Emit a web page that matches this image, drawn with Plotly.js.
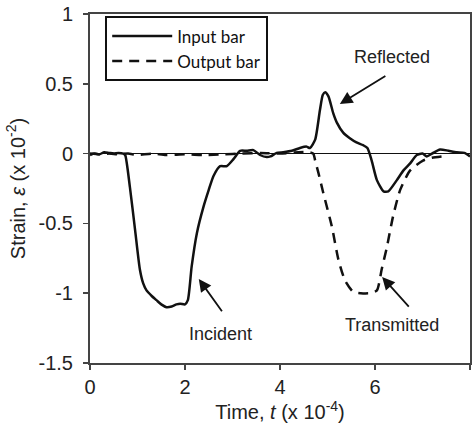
<!DOCTYPE html>
<html>
<head>
<meta charset="utf-8">
<script src="https://cdn.plot.ly/plotly-3.0.1.min.js"></script>
<style>html,body{margin:0;padding:0;background:#fff}#chart{width:473px;height:428px}</style>
</head>
<body>
<div id="chart"></div>
<script>
// Input bar (solid)
const inputTime = [0, 0.1, 0.2, 0.3, 0.4, 0.5, 0.6, 0.7, 0.74, 0.84, 0.95, 1.05, 1.12, 1.19, 1.3, 1.4, 1.5, 1.61, 1.72, 1.82, 1.9, 2.0, 2.06, 2.14, 2.25, 2.39, 2.5, 2.6, 2.74, 2.88, 3.02, 3.16, 3.3, 3.44, 3.58, 3.72, 3.8, 3.93, 4.07, 4.25, 4.42, 4.56, 4.63, 4.74, 4.84, 4.9, 4.95, 5.02, 5.12, 5.2, 5.33, 5.47, 5.61, 5.75, 5.84, 5.93, 6.04, 6.18, 6.28, 6.46, 6.6, 6.74, 6.88, 7.0, 7.09, 7.2, 7.37, 7.55, 7.72, 7.88, 8.0];
const inputStrain = [-0.01, 0.0, -0.005, 0.01, 0.005, 0.0, 0.005, 0.0, -0.01, -0.24, -0.55, -0.83, -0.93, -0.98, -1.02, -1.05, -1.08, -1.1, -1.095, -1.08, -1.075, -1.08, -1.05, -0.81, -0.57, -0.38, -0.26, -0.16, -0.09, -0.09, -0.04, 0.02, 0.02, 0.025, -0.01, -0.025, -0.02, 0.005, 0.01, 0.02, 0.04, 0.05, 0.04, 0.1, 0.31, 0.42, 0.44, 0.41, 0.29, 0.22, 0.15, 0.11, 0.08, 0.06, 0.04, -0.05, -0.19, -0.27, -0.27, -0.19, -0.12, -0.07, -0.01, 0.0, -0.02, 0.0, 0.03, 0.02, 0.01, 0.005, -0.02];

// Output bar (dashed)
const outputTime = [0, 0.2, 0.4, 0.6, 0.8, 1.0, 1.3, 1.6, 2.0, 2.4, 2.8, 3.2, 3.6, 4.0, 4.4, 4.6, 4.7, 4.74, 4.81, 4.91, 5.09, 5.23, 5.37, 5.54, 5.7, 5.89, 6.04, 6.14, 6.25, 6.38, 6.53, 6.74, 7.01, 7.2, 7.41];
const outputStrain = [0, -0.005, 0.0, -0.005, 0.0, -0.01, 0.0, -0.01, -0.005, -0.01, -0.005, 0.0, 0.005, 0.0, 0.01, 0.01, 0.0, -0.05, -0.14, -0.28, -0.52, -0.76, -0.91, -0.99, -1.0, -1.0, -0.98, -0.83, -0.67, -0.45, -0.26, -0.12, -0.05, -0.03, -0.02];

const xTicks = [0, 2, 4, 6, 8];
const yTicks = [1, 0.5, 0, -0.5, -1, -1.5];
const yTickLabels = ['1', '0.5', '0', '-0.5', '-1', '-1.5'];

// Annotation labels and their arrows
const labelNames = ['Reflected', 'Incident', 'Transmitted'];
const labelTextX = [6.35, 2.75, 6.35];
const labelTextY = [0.69, -1.29, -1.23];
const arrowHeadX = [5.26, 2.29, 6.15];
const arrowHeadY = [0.355, -0.898, -0.884];
const arrowTailX = [6.25, 2.8, 6.74];
const arrowTailY = [0.563, -1.14, -1.107];

const axisFont = {family: 'Liberation Sans, Arial, sans-serif', size: 20, color: '#222'};

const traces = [
  {x: inputTime, y: inputStrain, name: 'Input bar', mode: 'lines', line: {color: '#111', width: 2.5, shape: 'spline', smoothing: 0.6}},
  {x: outputTime, y: outputStrain, name: 'Output bar', mode: 'lines', line: {color: '#111', width: 2.5, dash: '10px,7px', shape: 'spline', smoothing: 0.6}}
];

const annotations = [];
for (let i = 0; i < labelNames.length; i++) {
  annotations.push({x: labelTextX[i], y: labelTextY[i], xref: 'x', yref: 'y', text: labelNames[i], showarrow: false,
    font: {family: 'Liberation Sans, Arial, sans-serif', size: 18, color: '#222'}});
  annotations.push({x: arrowHeadX[i], y: arrowHeadY[i], ax: arrowTailX[i], ay: arrowTailY[i], xref: 'x', yref: 'y', axref: 'x', ayref: 'y',
    text: '', showarrow: true, arrowhead: 2, arrowsize: 1.4, arrowwidth: 1.8, arrowcolor: '#111'});
}

const layout = {
  width: 473, height: 428,
  margin: {l: 90, r: 3, t: 14, b: 65},
  paper_bgcolor: '#fff', plot_bgcolor: '#fff',
  showlegend: true,
  legend: {x: 0.04, y: 0.9, xanchor: 'left', yanchor: 'middle', bgcolor: '#fff', bordercolor: '#111', borderwidth: 2,
    itemwidth: 60,
    font: {family: 'Lato, Calibri, sans-serif', size: 17, color: '#111'}, tracegroupgap: 0},
  xaxis: {
    range: [0, 8], tickvals: xTicks, ticktext: xTicks.map(String), ticks: 'outside', ticklen: 5, tickwidth: 1.5, tickcolor: '#444',
    showline: true, linecolor: '#444', linewidth: 2, mirror: true, showgrid: false, zeroline: false,
    tickfont: axisFont,
    title: {text: 'Time, <i>t</i> (x 10<sup>-4</sup>)', font: axisFont, standoff: 2}
  },
  yaxis: {
    range: [-1.5, 1], tickvals: yTicks, ticktext: yTickLabels, ticks: 'outside', ticklen: 5, tickwidth: 1.5, tickcolor: '#444',
    showline: true, linecolor: '#444', linewidth: 2, mirror: true, showgrid: false,
    zeroline: true, zerolinecolor: '#111', zerolinewidth: 1.2,
    tickfont: axisFont, ticklabelstandoff: 6,
    title: {text: 'Strain, <i>ε</i> (x 10<sup>-2</sup>)', font: axisFont, standoff: 8}
  },
  annotations: annotations
};

Plotly.newPlot('chart', traces, layout, {displayModeBar: false, staticPlot: true});
</script>
</body>
</html>
